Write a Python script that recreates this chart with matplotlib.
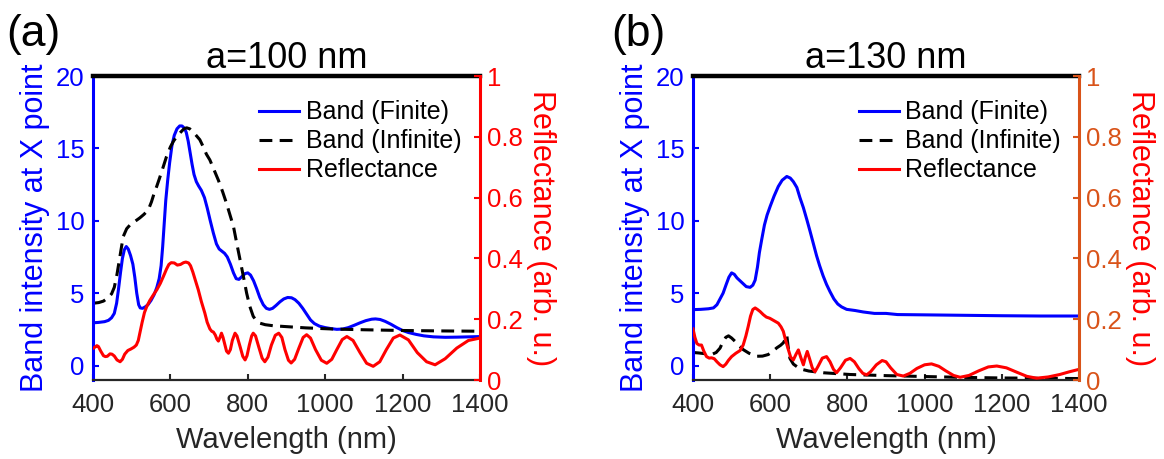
import matplotlib
matplotlib.use("Agg")
import matplotlib.pyplot as plt

plt.rcParams['font.family'] = ['Liberation Sans', 'DejaVu Sans']

# ---------------- data: panel (a) a=100 nm ----------------
a_fin_wl = [400, 415, 430, 440, 448, 455, 461, 466, 471, 476, 481, 486, 491, 497, 503, 508, 513, 518, 522, 528,
            535, 542, 550, 558, 565, 571, 576, 580, 584, 588, 593, 598, 604, 610, 617, 624, 630, 636, 641, 646,
            651, 656, 661, 667, 673, 680, 688, 695, 703, 711, 719, 726, 733, 740, 747, 755, 763, 770, 777, 785,
            793, 800, 807, 815, 823, 831, 840, 848, 856, 864, 873, 883, 893, 903, 913, 922, 932, 942, 952, 962,
            972, 985, 1000, 1015, 1030, 1045, 1060, 1075, 1090, 1105, 1120, 1130, 1142, 1155, 1170, 1185, 1200,
            1215, 1235, 1255, 1280, 1310, 1340, 1370, 1400]
a_fin_val = [2.95, 2.98, 3.03, 3.12, 3.3, 3.6, 4.3, 5.3, 6.4, 7.4, 8.0, 8.22, 8.05, 7.6, 7.0, 6.1, 5.0, 4.2, 3.98, 3.95,
             4.05, 4.2, 4.5, 4.9, 5.4, 6.0, 6.9, 8.2, 9.8, 11.4, 12.8, 14.0, 15.2, 15.9, 16.35, 16.55, 16.55, 16.4, 16.1, 15.5,
             14.7, 13.9, 13.2, 12.7, 12.4, 12.1, 11.6, 10.9, 10.0, 9.15, 8.4, 8.05, 7.9, 7.75, 7.5, 7.0, 6.4, 6.0, 5.95, 6.15,
             6.35, 6.4, 6.25, 5.85, 5.3, 4.7, 4.2, 3.95, 3.88, 3.95, 4.15, 4.4, 4.6, 4.7, 4.68, 4.55, 4.3, 3.95, 3.55, 3.15,
             2.9, 2.72, 2.62, 2.55, 2.5, 2.52, 2.62, 2.78, 2.95, 3.1, 3.2, 3.22, 3.18, 3.05, 2.85, 2.62, 2.42,
             2.28, 2.15, 2.05, 1.98, 1.95, 1.96, 1.98, 2.0]

a_inf_wl = [400, 415, 427, 440, 448, 455, 462, 470, 478, 487, 496, 508, 521, 532, 543, 551, 558, 565, 572, 580,
            590, 600, 608, 616, 626, 635, 642, 650, 660, 668, 676, 685, 693, 702, 713, 724, 735, 745, 754, 763,
            771, 780, 789, 797, 805, 814, 822, 832, 845, 865, 892, 950, 1021, 1100, 1200, 1300, 1400]
a_inf_val = [4.3, 4.35, 4.45, 4.7, 4.95, 5.4, 6.3, 7.6, 8.9, 9.45, 9.72, 9.95, 10.2, 10.45, 10.76, 11.3, 11.9, 12.4, 12.95, 13.6,
             14.44, 15.1, 15.5, 15.8, 16.1, 16.35, 16.42, 16.35, 16.1, 15.85, 15.6, 15.1, 14.6, 14.2, 13.5, 12.8, 12.0, 11.2, 10.4, 9.6,
             8.5, 7.3, 6.1, 5.0, 4.1, 3.4, 3.1, 2.92, 2.82, 2.75, 2.7, 2.6, 2.52, 2.47, 2.42, 2.39, 2.37]

a_ref_wl = [400, 405, 410, 414, 420, 427, 432, 437, 444, 449, 455, 462, 470, 476, 482, 490, 498, 506, 512, 517,
            521, 527, 533, 539, 547, 556, 565, 574, 582, 590, 596, 602, 610, 618, 626, 634, 640, 647, 652, 658,
            664, 672, 680, 689, 695, 702, 707, 711, 716, 720, 724, 728, 732, 736, 741, 745, 750, 755, 760, 767,
            772, 780, 787, 793, 798, 804, 810, 814, 820, 828, 837, 844, 852, 861, 871, 880, 888, 896, 905, 912,
            921, 932, 943, 952, 962, 975, 990, 1004, 1017, 1030, 1044, 1056, 1072, 1090, 1107, 1124, 1141, 1158,
            1176, 1193, 1215, 1238, 1262, 1284, 1310, 1340, 1370, 1400]
a_ref_val = [0.104, 0.108, 0.113, 0.11, 0.095, 0.08, 0.077, 0.078, 0.086, 0.085, 0.079, 0.066, 0.06, 0.068, 0.085, 0.097, 0.102, 0.108, 0.115, 0.13,
             0.154, 0.19, 0.222, 0.242, 0.262, 0.28, 0.297, 0.318, 0.341, 0.365, 0.38, 0.386, 0.385, 0.378, 0.38, 0.386, 0.388, 0.385, 0.376, 0.355,
             0.33, 0.297, 0.258, 0.22, 0.19, 0.168, 0.16, 0.158, 0.148, 0.135, 0.128, 0.14, 0.154, 0.14, 0.115, 0.095, 0.088, 0.1, 0.13, 0.154,
             0.145, 0.11, 0.078, 0.066, 0.08, 0.115, 0.145, 0.154, 0.145, 0.11, 0.072, 0.06, 0.075, 0.115, 0.147, 0.154, 0.14, 0.1, 0.065, 0.056,
             0.068, 0.105, 0.14, 0.149, 0.138, 0.1, 0.065, 0.055, 0.068, 0.1, 0.133, 0.143, 0.13, 0.09, 0.055, 0.045, 0.06, 0.1,
             0.138, 0.148, 0.132, 0.09, 0.06, 0.05, 0.07, 0.105, 0.13, 0.138]

# ---------------- data: panel (b) a=130 nm ----------------
b_fin_wl = [400, 420, 440, 453, 462, 470, 478, 486, 493, 500, 507, 514, 522, 530, 538, 548, 555, 561, 567, 572,
            578, 585, 592, 600, 610, 621, 631, 643, 652, 660, 669, 677, 686, 695, 703, 711, 720, 728, 737, 746,
            755, 765, 775, 785, 798, 820, 841, 870, 900, 930, 1000, 1100, 1200, 1300, 1400]
b_fin_val = [3.86, 3.88, 3.92, 3.98, 4.2, 4.6, 5.0, 5.6, 6.1, 6.4, 6.3, 6.05, 5.85, 5.65, 5.45, 5.4, 5.55, 5.9, 6.8, 7.8,
             8.7, 9.7, 10.4, 11.0, 11.7, 12.37, 12.8, 13.06, 12.95, 12.7, 12.3, 11.6, 10.9, 10.07, 9.3, 8.5, 7.6, 6.9, 6.2, 5.6,
             5.1, 4.6, 4.25, 4.05, 3.88, 3.8, 3.7, 3.6, 3.6, 3.52, 3.5, 3.47, 3.44, 3.42, 3.42]

b_inf_wl = [400, 414, 430, 448, 460, 470, 478, 485, 492, 500, 509, 520, 530, 545, 565, 580, 595, 605, 617, 627,
            634, 640, 643, 646, 651, 660, 677, 700, 738, 807, 902, 1000, 1100, 1200, 1300, 1400]
b_inf_val = [0.9, 0.87, 0.82, 0.76, 0.9, 1.2, 1.67, 1.95, 2.05, 1.9, 1.67, 1.35, 1.1, 0.85, 0.64, 0.65, 0.76, 0.95, 1.22, 1.4,
             1.57, 1.85, 2.1, 1.4, 0.5, 0.1, -0.23, -0.38, -0.5, -0.62, -0.7, -0.76, -0.82, -0.86, -0.88, -0.9]

b_ref_wl = [400, 405, 410, 416, 422, 428, 435, 442, 448, 455, 462, 470, 478, 485, 492, 500, 511, 522, 530, 537,
            543, 549, 555, 561, 567, 574, 582, 590, 599, 610, 621, 628, 634, 640, 647, 653, 660, 667, 673, 679,
            686, 691, 696, 702, 709, 716, 724, 735, 746, 755, 764, 772, 782, 795, 807, 818, 830, 840, 850, 860,
            875, 890, 900, 912, 928, 945, 962, 980, 1000, 1018, 1037, 1055, 1075, 1092, 1115, 1140, 1165, 1187,
            1212, 1240, 1265, 1290, 1320, 1350, 1375, 1400]
b_ref_val = [0.168, 0.14, 0.12, 0.115, 0.115, 0.095, 0.077, 0.072, 0.073, 0.07, 0.06, 0.05, 0.044, 0.052, 0.065, 0.077, 0.088, 0.097, 0.115, 0.145,
             0.176, 0.21, 0.232, 0.237, 0.232, 0.225, 0.215, 0.207, 0.203, 0.195, 0.187, 0.175, 0.16, 0.13, 0.1, 0.075, 0.066, 0.085, 0.099, 0.075,
             0.05, 0.075, 0.094, 0.07, 0.04, 0.027, 0.045, 0.072, 0.077, 0.06, 0.035, 0.024, 0.04, 0.065, 0.071, 0.06, 0.037, 0.022, 0.017, 0.027,
             0.05, 0.064, 0.06, 0.04, 0.018, 0.013, 0.022, 0.038, 0.05, 0.053, 0.045, 0.03, 0.015, 0.009, 0.015, 0.03, 0.043, 0.046,
             0.04, 0.025, 0.012, 0.006, 0.01, 0.018, 0.027, 0.035]

x_ticks = [400, 600, 800, 1000, 1200, 1400]
left_ticks = [0, 5, 10, 15, 20]
right_ticks = [0, 0.2, 0.4, 0.6, 0.8, 1]
right_ticklabels = ['0', '0.2', '0.4', '0.6', '0.8', '1']

panels = [
    dict(pos=[93/1164, 79/459, 387/1164, 304/459], title='a=100 nm', tag='(a)', tagx=6/1164,
         fin=(a_fin_wl, a_fin_val), inf=(a_inf_wl, a_inf_val), ref=(a_ref_wl, a_ref_val), rcol='#ff0000'),
    dict(pos=[693/1164, 79/459, 386/1164, 304/459], title='a=130 nm', tag='(b)', tagx=611/1164,
         fin=(b_fin_wl, b_fin_val), inf=(b_inf_wl, b_inf_val), ref=(b_ref_wl, b_ref_val), rcol='#D95319'),
]

AXC = '#262626'
fig = plt.figure(figsize=(11.64, 4.59), dpi=100)

for p in panels:
    ax = fig.add_axes(p['pos'])
    ax2 = ax.twinx()

    l1, = ax.plot(*p['fin'], color='#0000ff', lw=2.2, label='Band (Finite)')
    l2, = ax.plot(*p['inf'], color='black', lw=2.2, linestyle=(0, (4.2, 2.4)), label='Band (Infinite)')
    l3, = ax2.plot(*p['ref'], color='#ff0000', lw=2.2, label='Reflectance')
    ax.set_zorder(1)
    ax2.set_zorder(2)
    ax2.patch.set_visible(False)

    ax.set_xlim(400, 1400)
    ax.set_ylim(-1, 20)
    ax2.set_ylim(0, 1)
    ax.set_xticks(x_ticks)
    ax.set_yticks(left_ticks)
    ax2.set_yticks(right_ticks)
    ax2.set_yticklabels(right_ticklabels)

    for a_ in (ax, ax2):
        for s in a_.spines.values():
            s.set_visible(False)
    ax.spines['left'].set_visible(True)
    ax.spines['left'].set_color('#0000ff')
    ax.spines['left'].set_linewidth(2.2)
    ax.spines['bottom'].set_visible(True)
    ax.spines['bottom'].set_color(AXC)
    ax.spines['bottom'].set_linewidth(1.6)
    ax.spines['top'].set_visible(True)
    ax.spines['top'].set_color('black')
    ax.spines['top'].set_linewidth(3.2)
    ax2.spines['right'].set_visible(True)
    ax2.spines['right'].set_color(p['rcol'])
    ax2.spines['right'].set_linewidth(2.2)

    ax.tick_params(axis='x', direction='in', length=4, width=1.5, colors=AXC, labelsize=18.5, pad=9, top=False)
    ax.tick_params(axis='y', direction='in', length=4, width=1.5, colors='#0000ff', labelsize=18.5, pad=6, right=False)
    ax2.tick_params(axis='y', direction='in', length=4, width=1.5, colors=p['rcol'], labelsize=18.5, pad=5)

    ax.set_xlabel('Wavelength (nm)', fontsize=21, color=AXC, labelpad=7)
    ax.set_ylabel('Band intensity at X point', fontsize=22, color='#0000ff', labelpad=4)
    ax2.set_ylabel('Reflectance (arb. u.)', fontsize=22, color='#ff0000', rotation=270, labelpad=24)
    ax.set_title(p['title'], fontsize=26, color='black', pad=6)

    ax2.legend([l1, l2, l3], ['Band (Finite)', 'Band (Infinite)', 'Reflectance'],
               loc='upper left', bbox_to_anchor=(0.43, 0.92), frameon=False, fontsize=18,
               handlelength=1.6, handletextpad=0.25, labelspacing=0.2, borderpad=0, borderaxespad=0)

    fig.text(p['tagx'], 0.925, p['tag'], fontsize=32, ha='left', va='center', color='black')

fig.savefig('out.png', dpi=100)
